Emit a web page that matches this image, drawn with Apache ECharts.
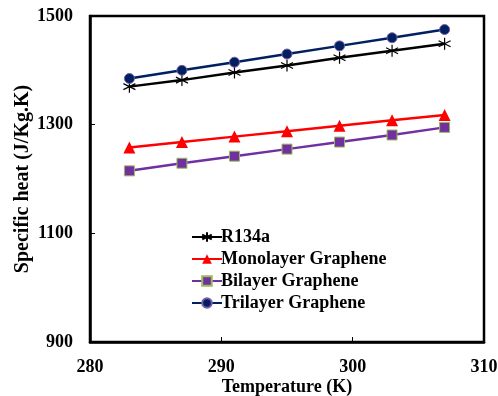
<!DOCTYPE html>
<html><head><meta charset="utf-8">
<script src="https://cdn.jsdelivr.net/npm/echarts@6/dist/echarts.min.js"></script>
<style>html,body{margin:0;padding:0;background:#fff}#c{width:498px;height:396px}</style>
</head><body><div id="c"></div>
<script>
const temperatures = [283, 287, 291, 295, 299, 303, 307];
const r134a = [1370, 1382, 1396, 1409, 1423, 1436, 1449];
const monolayer = [1258, 1268, 1278, 1288, 1298, 1308, 1318];
const bilayer = [1215, 1229, 1242, 1255, 1268, 1281, 1295];
const trilayer = [1385, 1400, 1415, 1430, 1445, 1460, 1475];
const seriesNames = ['R134a', 'Monolayer Graphene', 'Bilayer Graphene', 'Trilayer Graphene'];

const font = 'Liberation Serif';
const pairs = arr => temperatures.map((t, i) => [t, arr[i]]);
const star = 'path://M0,-10L0,10M-8.7,-5L8.7,5M-8.7,5L8.7,-5';

const chart = echarts.init(document.getElementById('c'), null, {renderer: 'canvas'});
chart.setOption({
  animation: false,
  backgroundColor: '#fff',
  grid: {left: 90, right: 14, top: 16, bottom: 54, show: true, borderColor: '#000', borderWidth: 2.5,
         containLabel: false, outerBoundsMode: 'none'},
  xAxis: {
    type: 'value', min: 280, max: 310, interval: 10,
    name: 'Temperature (K)', nameLocation: 'middle', nameGap: 36, nameMoveOverlap: false,
    nameTextStyle: {fontFamily: font, fontWeight: 'bold', fontSize: 18, color: '#000'},
    axisLine: {lineStyle: {color: '#000', width: 2.5}},
    axisTick: {inside: true, length: 5, lineStyle: {color: '#000', width: 1}},
    axisLabel: {fontFamily: font, fontWeight: 'bold', fontSize: 18, color: '#000', margin: 16,
                formatter: v => String(v)},
    splitLine: {show: false}
  },
  yAxis: {
    type: 'value', min: 900, max: 1500, interval: 200,
    name: 'Specific heat (J/Kg.K)', nameLocation: 'middle', nameGap: 57, nameMoveOverlap: false,
    nameTextStyle: {fontFamily: font, fontWeight: 'bold', fontSize: 20, color: '#000'},
    axisLine: {lineStyle: {color: '#000', width: 2.5}},
    axisTick: {inside: true, length: 5, lineStyle: {color: '#000', width: 1}},
    axisLabel: {fontFamily: font, fontWeight: 'bold', fontSize: 18, color: '#000', margin: 17,
                formatter: v => String(v)},
    splitLine: {show: false}
  },
  legend: {
    orient: 'vertical', left: 186, top: 223, itemWidth: 30, itemHeight: 12, itemGap: 4,
    textStyle: {fontFamily: font, fontWeight: 'bold', fontSize: 18, color: '#000', padding: [0,0,0,-6]},
    data: seriesNames
  },
  series: [
    {name: seriesNames[0], type: 'line', data: pairs(r134a), symbol: star, symbolSize: 12,
     lineStyle: {color: '#000', width: 2.5},
     itemStyle: {color: 'none', borderColor: '#000', borderWidth: 1.2}},
    {name: seriesNames[1], type: 'line', data: pairs(monolayer), symbol: 'triangle', symbolSize: 12,
     lineStyle: {color: '#ff0000', width: 2.5},
     itemStyle: {color: '#ff0000', borderColor: '#ff0000', borderWidth: 0}},
    {name: seriesNames[2], type: 'line', data: pairs(bilayer), symbol: 'rect', symbolSize: 10,
     lineStyle: {color: '#7030a0', width: 2.5},
     itemStyle: {color: '#7030a0', borderColor: '#9bbb59', borderWidth: 1}},
    {name: seriesNames[3], type: 'line', data: pairs(trilayer), symbol: 'circle', symbolSize: 10,
     lineStyle: {color: '#002060', width: 2.5},
     itemStyle: {color: '#002060', borderColor: '#7a5fa8', borderWidth: 1}}
  ]
});
</script></body></html>
